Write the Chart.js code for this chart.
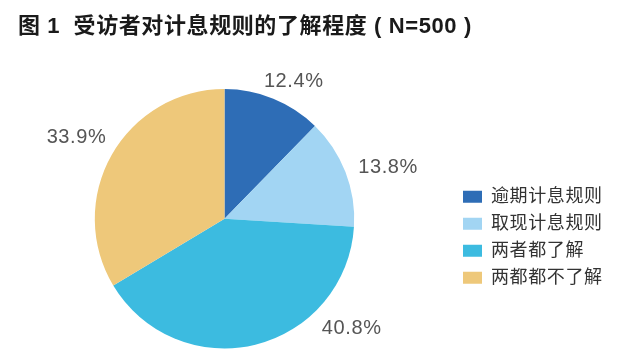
<!DOCTYPE html>
<html>
<head>
<meta charset="utf-8">
<script src="https://cdn.jsdelivr.net/npm/chart.js@4/dist/chart.umd.min.js"></script>
<style>
  html, body { margin: 0; padding: 0; background: #ffffff; }
  #wrap { position: relative; width: 640px; height: 364px; }
</style>
</head>
<body>
<div id="wrap"><canvas id="c" width="640" height="364"></canvas></div>
<script>
// ---- data ----
const titleText = '图 1  受访者对计息规则的了解程度 ( N=500 )';
const categories = ['逾期计息规则', '取现计息规则', '两者都了解', '两都都不了解'];
const shares = [12.4, 13.8, 40.8, 33.9];
const shareLabels = ['12.4%', '13.8%', '40.8%', '33.9%'];
const sliceColors = ['#2e6db6', '#a2d5f3', '#3cbbe0', '#eec87a'];

// label placement (angle from top clockwise in degrees, distance in px from centre)
const labelPlacement = [
  { angle: 26.8, dist: 153.6 },
  { angle: 72.6, dist: 171.4 },
  { angle: 130.7, dist: 167.8 },
  { angle: 298.8, dist: 168.9 }
];
const legendAnchor = { x: 463, y: 187.7 };

const sansCJK = '"Liberation Sans", "Noto Sans CJK SC", Arial, sans-serif';

const spacingPlugin = {
  id: 'spacing',
  beforeDraw(chart) { chart.ctx.letterSpacing = '0.6px'; },
  afterDraw(chart) { chart.ctx.letterSpacing = '0px'; }
};

const legendShift = {
  id: 'legendShift',
  afterLayout(chart) {
    const lg = chart.legend;
    if (!lg || !lg.columnSizes) return;
    const pad = lg.options.labels.padding;
    const colH = lg.columnSizes[0].height;
    const curY = (lg.top + pad + lg.bottom - colH) / 2;
    const dx = legendAnchor.x - (lg.left + pad);
    const dy = legendAnchor.y - curY;
    lg.left += dx;
    lg.right = chart.width;
    lg.top += dy;
    lg.bottom += dy;
    lg.width = lg.right - lg.left;
  }
};

const pctLabels = {
  id: 'pctLabels',
  afterDatasetsDraw(chart) {
    const meta = chart.getDatasetMeta(0);
    const ctx = chart.ctx;
    ctx.save();
    ctx.letterSpacing = '0.6px';
    ctx.font = '20px "Liberation Sans", Arial, sans-serif';
    ctx.fillStyle = '#555555';
    ctx.textAlign = 'center';
    ctx.textBaseline = 'middle';
    meta.data.forEach((arc, i) => {
      const p = labelPlacement[i];
      const a = p.angle * Math.PI / 180;
      const x = arc.x + Math.sin(a) * p.dist;
      const y = arc.y - Math.cos(a) * p.dist;
      ctx.fillText(shareLabels[i], x, y);
    });
    ctx.restore();
  }
};

new Chart(document.getElementById('c'), {
  type: 'pie',
  data: {
    labels: categories,
    datasets: [{
      data: shares,
      backgroundColor: sliceColors,
      borderWidth: 0,
      hoverOffset: 0
    }]
  },
  options: {
    responsive: false,
    animation: false,
    radius: 129.7,
    layout: { padding: { left: 18, right: 59, top: 0, bottom: 0 } },
    plugins: {
      tooltip: { enabled: false },
      title: {
        display: true,
        text: titleText,
        align: 'start',
        color: '#1a1a1a',
        font: { family: sansCJK, size: 22, weight: 'bold', lineHeight: 1.2 },
        padding: { top: 13.5, bottom: 33.7 }
      },
      legend: {
        display: true,
        position: 'right',
        maxWidth: 150,
        labels: {
          boxWidth: 19,
          boxHeight: 12,
          padding: 9,
          color: '#333333',
          font: { family: sansCJK, size: 18 }
        }
      }
    }
  },
  plugins: [spacingPlugin, legendShift, pctLabels]
});
</script>
</body>
</html>
